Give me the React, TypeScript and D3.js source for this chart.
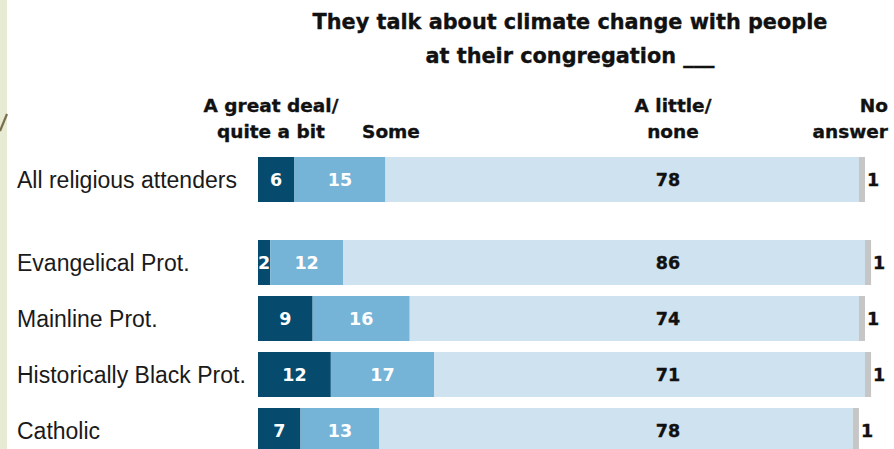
import React from "react";
import * as d3 from "d3";

const titleLines = ["They talk about climate change with people", "at their congregation ___"];
const categories = ["All religious attenders", "Evangelical Prot.", "Mainline Prot.", "Historically Black Prot.", "Catholic"];
const greatDeal = [6, 2, 9, 12, 7];
const some = [15, 12, 16, 17, 13];
const littleNone = [78, 86, 74, 71, 78];
const noAnswer = [1, 1, 1, 1, 1];
const headerGreat = ["A great deal/", "quite a bit"];
const headerSome = ["Some"];
const headerLittle = ["A little/", "none"];
const headerNo = ["No", "answer"];

const W = 894;
const H = 449;
const COLORS = { great: "#064b6e", some: "#75b4d7", little: "#cfe2f0", no: "#c6c6c6" };
const BOLD = "'DejaVu Sans', sans-serif";
const REG = "'Liberation Sans', Arial, sans-serif";

export default function App() {
  const x = d3.scaleLinear().domain([0, 100]).range([258, 865]);
  const rowPitch = 56;
  const barH = 45;
  const firstTop = 157;
  const groupGap = 27;
  const yTop = (i: number) => firstTop + i * rowPitch + (i > 0 ? groupGap : 0);
  const littleCol = 668;
  const heavy = { stroke: "#111", strokeWidth: 0.35 } as const;

  return (
    <svg width={W} height={H} style={{ position: "absolute", left: 0, top: 0, display: "block", background: "#fff" }}>
      <rect x={0} y={0} width={7} height={H} fill="#e7ebd4" />
      <line x1={0} y1={131} x2={7} y2={114} stroke="#7b6e4c" strokeWidth={2.2} />

      {titleLines.map((t, i) => (
        <text key={t} x={570} y={29 + i * 34} textAnchor="middle" fontFamily={BOLD} fontWeight="bold" fontSize={20.8} fill="#111" {...heavy}>
          {t}
        </text>
      ))}

      {headerGreat.map((t, i) => (
        <text key={t} x={271} y={112 + i * 26} textAnchor="middle" fontFamily={BOLD} fontWeight="bold" fontSize={18.5} fill="#111" {...heavy}>{t}</text>
      ))}
      {headerSome.map((t) => (
        <text key={t} x={391} y={138} textAnchor="middle" fontFamily={BOLD} fontWeight="bold" fontSize={18.5} fill="#111" {...heavy}>{t}</text>
      ))}
      {headerLittle.map((t, i) => (
        <text key={t} x={673} y={112 + i * 26} textAnchor="middle" fontFamily={BOLD} fontWeight="bold" fontSize={18.5} fill="#111" {...heavy}>{t}</text>
      ))}
      {headerNo.map((t, i) => (
        <text key={t} x={888} y={112 + i * 26} textAnchor="end" fontFamily={BOLD} fontWeight="bold" fontSize={18.5} fill="#111" {...heavy}>{t}</text>
      ))}

      {categories.map((c, i) => {
        const top = yTop(i);
        const cy = top + barH / 2;
        const a = greatDeal[i];
        const b = some[i];
        const l = littleNone[i];
        const n = noAnswer[i];
        const x0 = x(0), x1 = x(a), x2 = x(a + b), x3 = x(a + b + l), x4 = x(a + b + l + n);
        return (
          <g key={c}>
            <text x={17} y={cy + 8} fontFamily={REG} fontSize={23} fill="#1a1a1a">{c}</text>
            <rect x={x0} y={top} width={x1 - x0} height={barH} fill={COLORS.great} />
            <rect x={x1} y={top} width={x2 - x1} height={barH} fill={COLORS.some} />
            <rect x={x2} y={top} width={x3 - x2} height={barH} fill={COLORS.little} />
            <rect x={x3} y={top} width={x4 - x3} height={barH} fill={COLORS.no} />
            <text x={(x0 + x1) / 2} y={cy + 6.5} textAnchor="middle" fontFamily={BOLD} fontWeight="bold" fontSize={17.5} fill="#fff">{a}</text>
            <text x={(x1 + x2) / 2} y={cy + 6.5} textAnchor="middle" fontFamily={BOLD} fontWeight="bold" fontSize={17.5} fill="#fff">{b}</text>
            <text x={littleCol} y={cy + 6.5} textAnchor="middle" fontFamily={BOLD} fontWeight="bold" fontSize={17.5} fill="#111" {...heavy}>{l}</text>
            <text x={x4 + 2} y={cy + 6.5} textAnchor="start" fontFamily={BOLD} fontWeight="bold" fontSize={17.5} fill="#111" {...heavy}>{n}</text>
          </g>
        );
      })}
    </svg>
  );
}
